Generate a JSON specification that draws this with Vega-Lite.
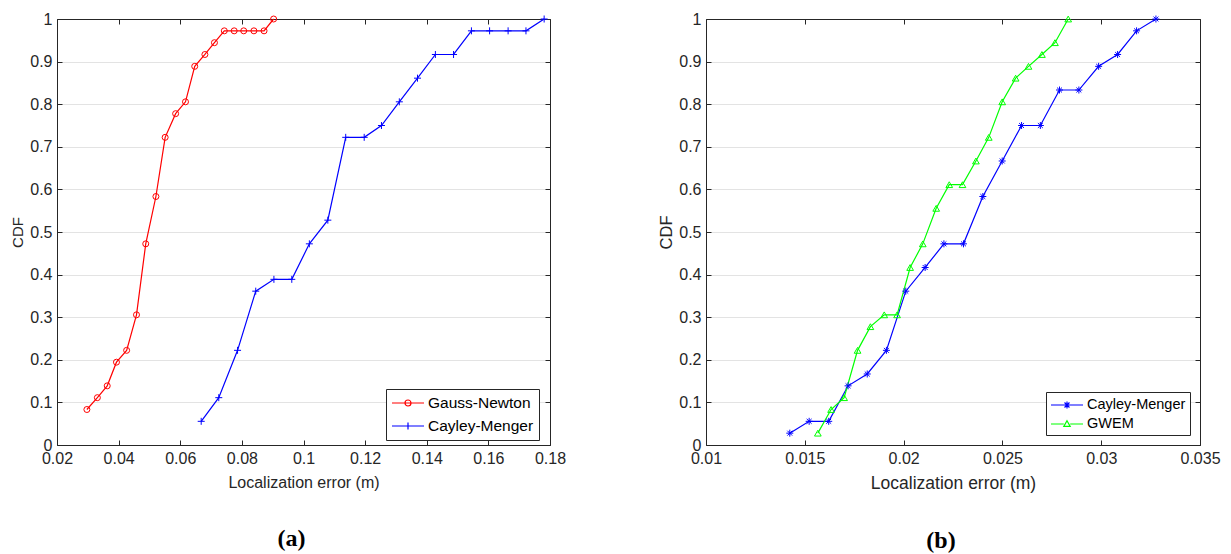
{
  "$schema": "https://vega.github.io/schema/vega-lite/v6.json",
  "padding": {"left": 10, "top": 11, "right": 5, "bottom": 0},
  "background": "white",
  "bounds": "flush",
  "spacing": 156,
  "config": {
    "font": "Liberation Sans",
    "view": {"stroke": null},
    "axis": {
      "domainColor": "#262626", "tickColor": "#262626", "labelColor": "#262626", "titleColor": "#262626",
      "labelFontSize": 16, "titleFontSize": 16, "titleFontWeight": "normal", "tickSize": -5, "labelFlush": false,
      "grid": false, "labelFont": "Liberation Sans", "titleFont": "Liberation Sans", "domainWidth": 1, "tickWidth": 1
    },
    "legend": {
      "orient": "none", "strokeColor": "#262626", "fillColor": "white", "padding": 5,
      "labelFont": "Liberation Sans", "labelColor": "black", "symbolSize": 256, "symbolStrokeWidth": 1.2,
      "labelOffset": 19, "cornerRadius": 0
    }
  },
  "datasets": {
    "a": [
      {"method": "Gauss-Newton", "x": 0.0297, "y": 0.0833},
      {"method": "Gauss-Newton", "x": 0.0331, "y": 0.1111},
      {"method": "Gauss-Newton", "x": 0.0363, "y": 0.1389},
      {"method": "Gauss-Newton", "x": 0.0393, "y": 0.1944},
      {"method": "Gauss-Newton", "x": 0.0426, "y": 0.2222},
      {"method": "Gauss-Newton", "x": 0.0458, "y": 0.3056},
      {"method": "Gauss-Newton", "x": 0.0488, "y": 0.4722},
      {"method": "Gauss-Newton", "x": 0.0521, "y": 0.5833},
      {"method": "Gauss-Newton", "x": 0.0551, "y": 0.7222},
      {"method": "Gauss-Newton", "x": 0.0585, "y": 0.7778},
      {"method": "Gauss-Newton", "x": 0.0617, "y": 0.8056},
      {"method": "Gauss-Newton", "x": 0.0647, "y": 0.8889},
      {"method": "Gauss-Newton", "x": 0.0680, "y": 0.9167},
      {"method": "Gauss-Newton", "x": 0.0711, "y": 0.9444},
      {"method": "Gauss-Newton", "x": 0.0743, "y": 0.9722},
      {"method": "Gauss-Newton", "x": 0.0775, "y": 0.9722},
      {"method": "Gauss-Newton", "x": 0.0806, "y": 0.9722},
      {"method": "Gauss-Newton", "x": 0.0839, "y": 0.9722},
      {"method": "Gauss-Newton", "x": 0.0872, "y": 0.9722},
      {"method": "Gauss-Newton", "x": 0.0903, "y": 1.0},
      {"method": "Cayley-Menger", "x": 0.0668, "y": 0.0556},
      {"method": "Cayley-Menger", "x": 0.0725, "y": 0.1111},
      {"method": "Cayley-Menger", "x": 0.0786, "y": 0.2222},
      {"method": "Cayley-Menger", "x": 0.0845, "y": 0.3611},
      {"method": "Cayley-Menger", "x": 0.0904, "y": 0.3889},
      {"method": "Cayley-Menger", "x": 0.0962, "y": 0.3889},
      {"method": "Cayley-Menger", "x": 0.1019, "y": 0.4722},
      {"method": "Cayley-Menger", "x": 0.1079, "y": 0.5278},
      {"method": "Cayley-Menger", "x": 0.1137, "y": 0.7222},
      {"method": "Cayley-Menger", "x": 0.1197, "y": 0.7222},
      {"method": "Cayley-Menger", "x": 0.1253, "y": 0.75},
      {"method": "Cayley-Menger", "x": 0.1311, "y": 0.8056},
      {"method": "Cayley-Menger", "x": 0.1370, "y": 0.8611},
      {"method": "Cayley-Menger", "x": 0.1428, "y": 0.9167},
      {"method": "Cayley-Menger", "x": 0.1487, "y": 0.9167},
      {"method": "Cayley-Menger", "x": 0.1545, "y": 0.9722},
      {"method": "Cayley-Menger", "x": 0.1604, "y": 0.9722},
      {"method": "Cayley-Menger", "x": 0.1664, "y": 0.9722},
      {"method": "Cayley-Menger", "x": 0.1722, "y": 0.9722},
      {"method": "Cayley-Menger", "x": 0.1781, "y": 1.0}
    ],
    "b": [
      {"method": "Cayley-Menger", "x": 0.01424, "y": 0.0278},
      {"method": "Cayley-Menger", "x": 0.01522, "y": 0.0556},
      {"method": "Cayley-Menger", "x": 0.01621, "y": 0.0556},
      {"method": "Cayley-Menger", "x": 0.01719, "y": 0.1389},
      {"method": "Cayley-Menger", "x": 0.01816, "y": 0.1667},
      {"method": "Cayley-Menger", "x": 0.01913, "y": 0.2222},
      {"method": "Cayley-Menger", "x": 0.02011, "y": 0.3611},
      {"method": "Cayley-Menger", "x": 0.02109, "y": 0.4167},
      {"method": "Cayley-Menger", "x": 0.02204, "y": 0.4722},
      {"method": "Cayley-Menger", "x": 0.02303, "y": 0.4722},
      {"method": "Cayley-Menger", "x": 0.02401, "y": 0.5833},
      {"method": "Cayley-Menger", "x": 0.02499, "y": 0.6667},
      {"method": "Cayley-Menger", "x": 0.02597, "y": 0.75},
      {"method": "Cayley-Menger", "x": 0.02692, "y": 0.75},
      {"method": "Cayley-Menger", "x": 0.02789, "y": 0.8333},
      {"method": "Cayley-Menger", "x": 0.02887, "y": 0.8333},
      {"method": "Cayley-Menger", "x": 0.02987, "y": 0.8889},
      {"method": "Cayley-Menger", "x": 0.03083, "y": 0.9167},
      {"method": "Cayley-Menger", "x": 0.03179, "y": 0.9722},
      {"method": "Cayley-Menger", "x": 0.03277, "y": 1.0},
      {"method": "GWEM", "x": 0.01566, "y": 0.0278},
      {"method": "GWEM", "x": 0.01633, "y": 0.0833},
      {"method": "GWEM", "x": 0.01699, "y": 0.1111},
      {"method": "GWEM", "x": 0.01767, "y": 0.2222},
      {"method": "GWEM", "x": 0.01832, "y": 0.2778},
      {"method": "GWEM", "x": 0.01902, "y": 0.3056},
      {"method": "GWEM", "x": 0.01967, "y": 0.3056},
      {"method": "GWEM", "x": 0.02033, "y": 0.4167},
      {"method": "GWEM", "x": 0.02097, "y": 0.4722},
      {"method": "GWEM", "x": 0.02165, "y": 0.5556},
      {"method": "GWEM", "x": 0.02231, "y": 0.6111},
      {"method": "GWEM", "x": 0.02298, "y": 0.6111},
      {"method": "GWEM", "x": 0.02366, "y": 0.6667},
      {"method": "GWEM", "x": 0.02431, "y": 0.7222},
      {"method": "GWEM", "x": 0.02499, "y": 0.8056},
      {"method": "GWEM", "x": 0.02567, "y": 0.8611},
      {"method": "GWEM", "x": 0.02632, "y": 0.8889},
      {"method": "GWEM", "x": 0.02700, "y": 0.9167},
      {"method": "GWEM", "x": 0.02766, "y": 0.9444},
      {"method": "GWEM", "x": 0.02833, "y": 1.0}
    ]
  },
  "resolve": {
    "scale": {"color": "independent"},
    "legend": {"color": "independent"}
  },
  "hconcat": [
    {
      "width": 493,
      "height": 426,
      "data": {"name": "a"},
      "title": {"text": "(a)", "orient": "bottom", "font": "Liberation Serif", "fontSize": 24, "fontWeight": "bold", "color": "black", "offset": 37, "dx": -12},
      "layer": [
        {
          "mark": {"type": "line", "strokeWidth": 1.2},
          "encoding": {
            "x": {"field": "x", "type": "quantitative", "scale": {"domain": [0.02, 0.18], "nice": false, "zero": false},
                  "axis": {"orient": "bottom", "title": "Localization error (m)", "values": [0.02, 0.04, 0.06, 0.08, 0.1, 0.12, 0.14, 0.16, 0.18], "format": ".2~f", "labelPadding": 10, "titlePadding": 8}},
            "y": {"field": "y", "type": "quantitative", "scale": {"domain": [0, 1], "nice": false},
                  "axis": {"orient": "left", "title": "CDF", "values": [0, 0.1, 0.2, 0.3, 0.4, 0.5, 0.6, 0.7, 0.8, 0.9, 1], "format": ".1~f", "labelPadding": 10, "grid": true, "gridColor": "#e3e3e3", "gridWidth": 1, "titlePadding": 4, "titleFontSize": 15}},
            "color": {"field": "method", "type": "nominal", "scale": {"domain": ["Gauss-Newton", "Cayley-Menger"], "range": ["#ff0000", "#0000ff"]},
                      "legend": {"title": null, "legendX": 329, "legendY": 370, "labelFontSize": 15.5, "rowPadding": 5,
                                 "encoding": {"symbols": {"fill": {"value": "transparent"}, "shape": {"value": {"expr": "datum.value === 'Gauss-Newton' ? 'M-1,0H3M0.625,0A0.375,0.375,0,1,0,1.375,0A0.375,0.375,0,1,0,0.625,0' : 'M-1,0H3M1,-0.44V0.44'"}}}}}}
          }
        },
        {
          "transform": [{"filter": "datum.method === 'Gauss-Newton'"}],
          "mark": {"type": "point", "shape": "circle", "filled": false, "size": 36, "strokeWidth": 1, "opacity": 1},
          "encoding": {
            "x": {"field": "x", "type": "quantitative", "axis": null},
            "y": {"field": "y", "type": "quantitative", "axis": null},
            "color": {"field": "method", "type": "nominal", "scale": {"domain": ["Gauss-Newton", "Cayley-Menger"], "range": ["#ff0000", "#0000ff"]},
                      "legend": {"title": null, "legendX": 329, "legendY": 370, "labelFontSize": 15.5, "rowPadding": 5,
                                 "encoding": {"symbols": {"fill": {"value": "transparent"}, "shape": {"value": {"expr": "datum.value === 'Gauss-Newton' ? 'M-1,0H3M0.625,0A0.375,0.375,0,1,0,1.375,0A0.375,0.375,0,1,0,0.625,0' : 'M-1,0H3M1,-0.44V0.44'"}}}}}}
          }
        },
        {
          "transform": [{"filter": "datum.method === 'Cayley-Menger'"}],
          "mark": {"type": "point", "shape": "M-1,0H1M0,-1V1", "filled": false, "size": 49, "strokeWidth": 1, "opacity": 1},
          "encoding": {
            "x": {"field": "x", "type": "quantitative", "axis": null},
            "y": {"field": "y", "type": "quantitative", "axis": null},
            "color": {"field": "method", "type": "nominal", "scale": {"domain": ["Gauss-Newton", "Cayley-Menger"], "range": ["#ff0000", "#0000ff"]},
                      "legend": {"title": null, "legendX": 329, "legendY": 370, "labelFontSize": 15.5, "rowPadding": 5,
                                 "encoding": {"symbols": {"fill": {"value": "transparent"}, "shape": {"value": {"expr": "datum.value === 'Gauss-Newton' ? 'M-1,0H3M0.625,0A0.375,0.375,0,1,0,1.375,0A0.375,0.375,0,1,0,0.625,0' : 'M-1,0H3M1,-0.44V0.44'"}}}}}}
          }
        },
        {
          "mark": {"type": "point", "opacity": 0},
          "encoding": {
            "x": {"field": "x", "type": "quantitative", "axis": {"orient": "top", "labels": false, "title": null, "values": [0.02, 0.04, 0.06, 0.08, 0.1, 0.12, 0.14, 0.16, 0.18]}},
            "y": {"field": "y", "type": "quantitative", "axis": {"orient": "right", "labels": false, "title": null, "values": [0, 0.1, 0.2, 0.3, 0.4, 0.5, 0.6, 0.7, 0.8, 0.9, 1]}}
          }
        }
      ]
    },
    {
      "width": 494,
      "height": 426,
      "data": {"name": "b"},
      "title": {"text": "(b)", "orient": "bottom", "font": "Liberation Serif", "fontSize": 24, "fontWeight": "bold", "color": "black", "offset": 37, "dx": -12},
      "layer": [
        {
          "mark": {"type": "line", "strokeWidth": 1.2},
          "encoding": {
            "x": {"field": "x", "type": "quantitative", "scale": {"domain": [0.01, 0.035], "nice": false, "zero": false},
                  "axis": {"orient": "bottom", "title": "Localization error (m)", "values": [0.01, 0.015, 0.02, 0.025, 0.03, 0.035], "format": ".3~f", "labelPadding": 10, "titlePadding": 8, "titleFontSize": 17.5}},
            "y": {"field": "y", "type": "quantitative", "scale": {"domain": [0, 1], "nice": false},
                  "axis": {"orient": "left", "title": "CDF", "values": [0, 0.1, 0.2, 0.3, 0.4, 0.5, 0.6, 0.7, 0.8, 0.9, 1], "format": ".1~f", "labelPadding": 10, "grid": true, "gridColor": "#e3e3e3", "gridWidth": 1, "titlePadding": 4, "titleFontSize": 16.5}},
            "color": {"field": "method", "type": "nominal", "scale": {"domain": ["Cayley-Menger", "GWEM"], "range": ["#0000ff", "#00ff00"]},
                      "legend": {"title": null, "legendX": 340, "legendY": 373, "labelFontSize": 14.5, "rowPadding": 3, "padding": 4,
                                 "encoding": {"symbols": {"fill": {"value": "transparent"}, "shape": {"value": {"expr": "datum.value === 'GWEM' ? 'M-1,0H0.6M1.4,0H3M1,-0.4L1.4,0.3L0.6,0.3Z' : 'M-1,0H3M1,-0.44V0.44M0.69,-0.31L1.31,0.31M0.69,0.31L1.31,-0.31'"}}}}}}
          }
        },
        {
          "transform": [{"filter": "datum.method === 'Cayley-Menger'"}],
          "mark": {"type": "point", "shape": "M-1,0H1M0,-1V1M-0.7,-0.7L0.7,0.7M-0.7,0.7L0.7,-0.7", "filled": false, "size": 49, "strokeWidth": 1, "opacity": 1},
          "encoding": {
            "x": {"field": "x", "type": "quantitative", "axis": null},
            "y": {"field": "y", "type": "quantitative", "axis": null},
            "color": {"field": "method", "type": "nominal", "scale": {"domain": ["Cayley-Menger", "GWEM"], "range": ["#0000ff", "#00ff00"]},
                      "legend": {"title": null, "legendX": 340, "legendY": 373, "labelFontSize": 14.5, "rowPadding": 3, "padding": 4,
                                 "encoding": {"symbols": {"fill": {"value": "transparent"}, "shape": {"value": {"expr": "datum.value === 'GWEM' ? 'M-1,0H0.6M1.4,0H3M1,-0.4L1.4,0.3L0.6,0.3Z' : 'M-1,0H3M1,-0.44V0.44M0.69,-0.31L1.31,0.31M0.69,0.31L1.31,-0.31'"}}}}}}
          }
        },
        {
          "transform": [{"filter": "datum.method === 'GWEM'"}],
          "mark": {"type": "point", "shape": "triangle-up", "filled": false, "size": 45, "strokeWidth": 1, "opacity": 1},
          "encoding": {
            "x": {"field": "x", "type": "quantitative", "axis": null},
            "y": {"field": "y", "type": "quantitative", "axis": null},
            "color": {"field": "method", "type": "nominal", "scale": {"domain": ["Cayley-Menger", "GWEM"], "range": ["#0000ff", "#00ff00"]},
                      "legend": {"title": null, "legendX": 340, "legendY": 373, "labelFontSize": 14.5, "rowPadding": 3, "padding": 4,
                                 "encoding": {"symbols": {"fill": {"value": "transparent"}, "shape": {"value": {"expr": "datum.value === 'GWEM' ? 'M-1,0H0.6M1.4,0H3M1,-0.4L1.4,0.3L0.6,0.3Z' : 'M-1,0H3M1,-0.44V0.44M0.69,-0.31L1.31,0.31M0.69,0.31L1.31,-0.31'"}}}}}}
          }
        },
        {
          "mark": {"type": "point", "opacity": 0},
          "encoding": {
            "x": {"field": "x", "type": "quantitative", "axis": {"orient": "top", "labels": false, "title": null, "values": [0.01, 0.015, 0.02, 0.025, 0.03, 0.035]}},
            "y": {"field": "y", "type": "quantitative", "axis": {"orient": "right", "labels": false, "title": null, "values": [0, 0.1, 0.2, 0.3, 0.4, 0.5, 0.6, 0.7, 0.8, 0.9, 1]}}
          }
        }
      ]
    }
  ]
}
